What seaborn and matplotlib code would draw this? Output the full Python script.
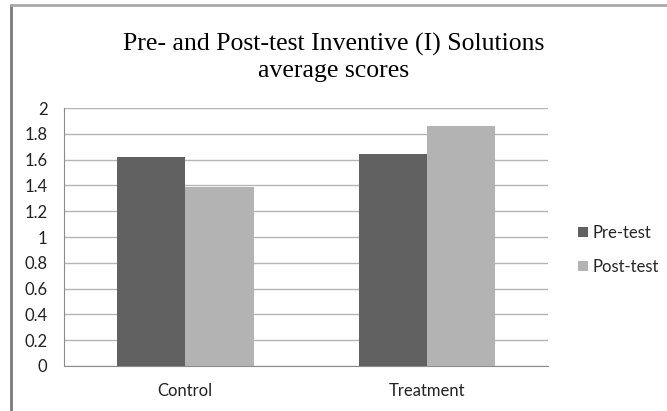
import pandas as pd
import matplotlib.pyplot as plt
import seaborn as sns
from matplotlib.lines import Line2D

# values
groups = ['Control', 'Treatment']
pre_test = [1.62, 1.64]
post_test = [1.39, 1.86]
series = ['Pre-test', 'Post-test']

df = pd.DataFrame({
    'Group': groups * 2,
    'Test': [series[0]] * 2 + [series[1]] * 2,
    'Score': pre_test + post_test,
})

sns.set_style('white')
plt.rcParams['font.family'] = ['Lato', 'DejaVu Sans']

fig = plt.figure(figsize=(6.67, 4.11), dpi=100)
ax = fig.add_axes([0.096, 0.1095, 0.7256, 0.6277])

sns.barplot(data=df, x='Group', y='Score', hue='Test', ax=ax,
            palette=['#616161', '#b3b3b3'], width=0.566, saturation=1,
            edgecolor='none', linewidth=0, zorder=3)

ax.set_ylim(0, 2)
ax.set_yticks([0, 0.2, 0.4, 0.6, 0.8, 1, 1.2, 1.4, 1.6, 1.8, 2])
ax.set_yticklabels(['0', '0.2', '0.4', '0.6', '0.8', '1', '1.2', '1.4', '1.6', '1.8', '2'])
ax.grid(axis='y', color='#b4b4b4', linewidth=1, zorder=0)
ax.set_axisbelow(True)
ax.set_xlabel('')
ax.set_ylabel('')
ax.tick_params(axis='both', length=0, labelsize=12, colors='#222222')
ax.tick_params(axis='y', pad=12)
ax.tick_params(axis='x', pad=12)

for side in ['top', 'right']:
    ax.spines[side].set_visible(False)
ax.spines['left'].set_color('#8c8c8c')
ax.spines['bottom'].set_color('#8c8c8c')

ax.legend(loc='center left', bbox_to_anchor=(1.03, 0.45), frameon=False,
          fontsize=12, handlelength=0.6, handleheight=0.6, handletextpad=0.3,
          labelspacing=1.1)

# two-line chart title, serif like the original
fig.text(0.5, 0.878, 'Pre- and Post-test Inventive (I) Solutions',
         ha='center', va='baseline', fontsize=18.5, family='Liberation Serif',
         color='black')
fig.text(0.5, 0.813, 'average scores',
         ha='center', va='baseline', fontsize=18.5, family='Liberation Serif',
         color='black')

# outer chart frame (only the left and top edges show)
fig.add_artist(Line2D([0.0165, 0.0165], [0, 0.988], transform=fig.transFigure,
                      color='#7a7a7a', linewidth=2))
fig.add_artist(Line2D([0.0165, 1], [0.988, 0.988], transform=fig.transFigure,
                      color='#a8a8a8', linewidth=2))

fig.savefig('out.png', dpi=100)
